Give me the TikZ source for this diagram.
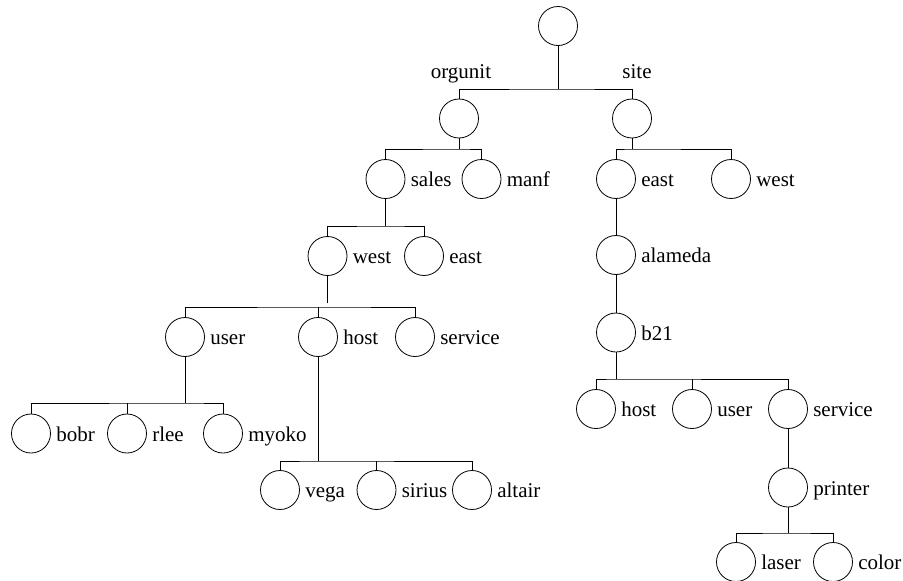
\documentclass[tikz,border=0pt]{standalone}
\usepackage{fontspec}
\setmainfont{Liberation Serif}
\usetikzlibrary{positioning}

\begin{document}
\begin{tikzpicture}[x=1pt,y=-1pt,line width=0.8pt,
    font=\fontsize{21}{25}\selectfont,
    ent/.style={circle,draw,minimum size=39pt,inner sep=0pt},
    every label/.style={inner sep=1pt,text height=15.5pt,text depth=0.5pt},
    label distance=4pt]
  \useasboundingbox (0,0) rectangle (903,581);

  % root with orgunit and site
  \node[ent] (root) at (558,26) {};
  \node[anchor=base] (lorgunit) at (461,78) {orgunit};
  \node[anchor=base] (lsite) at (637,78) {site};
  \node[ent] (orgunit) at (459,118.5) {};
  \node[ent] (site) at (632,118.5) {};
  \coordinate (jroot) at (558,89);
  \draw (root) -- (jroot);
  \draw (orgunit) |- (jroot) -| (site);

  % orgunit side
  \node[ent,label=right:sales] (sales) at (385.5,179) {};
  \node[ent,label=right:manf] (manf) at (481.5,179) {};
  \coordinate (jorg) at (459,149);
  \draw (orgunit) -- (jorg);
  \draw (sales) |- (jorg) -| (manf);

  \node[ent,label=right:west] (west) at (327.5,256) {};
  \node[ent,label=right:east] (east) at (424,256) {};
  \coordinate (jsales) at (385.5,226);
  \draw (sales) -- (jsales);
  \draw (west) |- (jsales) -| (east);

  \node[ent,label=right:user] (user) at (185,337) {};
  \node[ent,label=right:host] (host) at (318,337) {};
  \node[ent,label=right:service] (service) at (415,337) {};
  \coordinate (wend) at (327.5,303);
  \coordinate (jwest) at (327.5,307);
  \draw (west) -- (wend);
  \draw (user) |- (jwest) -| (service);
  \draw (jwest -| host) -- (host);

  \node[ent,label=right:bobr] (bobr) at (31,433.5) {};
  \node[ent,label=right:rlee] (rlee) at (127,433.5) {};
  \node[ent,label=right:myoko] (myoko) at (223,433.5) {};
  \coordinate (juser) at (185,403);
  \draw (user) -- (juser);
  \draw (bobr) |- (juser) -| (myoko);
  \draw (juser -| rlee) -- (rlee);

  \node[ent,label=right:vega] (vega) at (280,490) {};
  \node[ent,label=right:sirius] (sirius) at (376.5,490) {};
  \node[ent,label=right:altair] (altair) at (472,490) {};
  \coordinate (jhost) at (318,461);
  \draw (host) -- (jhost);
  \draw (vega) |- (jhost) -| (altair);
  \draw (jhost -| sirius) -- (sirius);

  % site side
  \node[ent,label=right:east] (seast) at (616,179) {};
  \node[ent,label=right:west] (swest) at (731,179) {};
  \coordinate (jsite) at (632,149);
  \draw (site) -- (jsite);
  \draw (seast) |- (jsite) -| (swest);

  \node[ent,label=right:alameda] (alameda) at (616,255) {};
  \node[ent,label=right:b21] (b21) at (616,332.5) {};
  \draw (seast) -- (alameda);
  \draw (alameda) -- (b21);

  \node[ent,label=right:host] (shost) at (596,409) {};
  \node[ent,label=right:user] (suser) at (692,409) {};
  \node[ent,label=right:service] (sservice) at (788,409) {};
  \coordinate (jb21) at (616,379);
  \draw (b21) -- (jb21);
  \draw (shost) |- (jb21) -| (sservice);
  \draw (jb21 -| suser) -- (suser);

  \node[ent,label=right:printer] (printer) at (788,487.5) {};
  \draw (sservice) -- (printer);

  \node[ent,label=right:laser] (laser) at (736,562) {};
  \node[ent,label=right:color] (color) at (833,562) {};
  \coordinate (jprinter) at (788,533);
  \draw (printer) -- (jprinter);
  \draw (laser) |- (jprinter) -| (color);
\end{tikzpicture}
\end{document}
